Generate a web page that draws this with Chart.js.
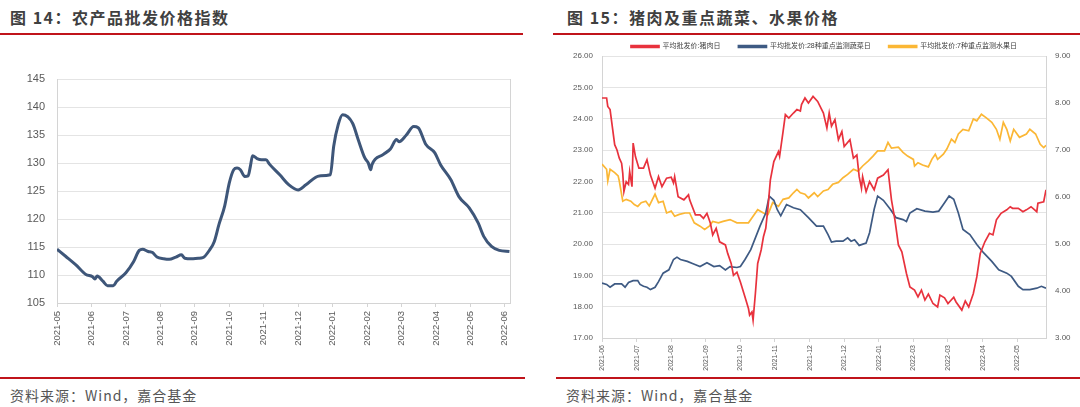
<!DOCTYPE html>
<html>
<head>
<meta charset="utf-8">
<script src="https://cdn.jsdelivr.net/npm/chart.js@4.4.1/dist/chart.umd.min.js"></script>
<style>
  body { margin: 0; background: #fff; }
  #page { position: relative; width: 1080px; height: 407px; overflow: hidden; background: #fff; }
  .title { position: absolute; top: 7px; line-height: 20px; font-family: "Noto Sans CJK SC", sans-serif; font-weight: bold; font-size: 16px; letter-spacing: 1.5px; color: #404040; white-space: nowrap; }
  .rule { position: absolute; height: 2px; background: #c0141b; }
  .src { position: absolute; top: 386px; line-height: 18px; font-family: "Noto Sans CJK SC", sans-serif; font-size: 14px; letter-spacing: 1px; color: #555; white-space: nowrap; }
  canvas { position: absolute; }
</style>
</head>
<body>
<div id="page">
  <div class="title" style="left:10px">图 14：农产品批发价格指数</div>
  <div class="title" style="left:567px">图 15：猪肉及重点蔬菜、水果价格</div>
  <div class="rule" style="left:0;top:33px;width:523px"></div>
  <div class="rule" style="left:553px;top:33px;width:527px"></div>
  <div class="rule" style="left:0;top:377px;width:525px"></div>
  <div class="rule" style="left:556px;top:377px;width:524px"></div>
  <canvas id="c14" width="540" height="300" style="left:0;top:60px"></canvas>
  <canvas id="c15" width="540" height="355" style="left:540px;top:25px"></canvas>
  <div class="src" style="left:10px">资料来源：Wind，嘉合基金</div>
  <div class="src" style="left:566px">资料来源：Wind，嘉合基金</div>
</div>
<script>
// 图14 农产品批发价格指数
const leftMonths = ['2021-05', '2021-06', '2021-07', '2021-08', '2021-09', '2021-10', '2021-11',
  '2021-12', '2022-01', '2022-02', '2022-03', '2022-04', '2022-05', '2022-06'];
const leftDates = ['2021-05-01', '2021-05-09', '2021-05-18', '2021-05-27', '2021-06-02', '2021-06-04',
  '2021-06-06', '2021-06-11', '2021-06-15', '2021-06-20', '2021-06-23', '2021-07-01', '2021-07-08',
  '2021-07-13', '2021-07-16', '2021-07-21', '2021-07-25', '2021-07-29', '2021-08-04', '2021-08-09',
  '2021-08-15', '2021-08-20', '2021-08-23', '2021-08-29', '2021-09-04', '2021-09-08', '2021-09-14',
  '2021-09-18', '2021-09-22', '2021-09-27', '2021-10-01', '2021-10-05', '2021-10-08', '2021-10-11',
  '2021-10-15', '2021-10-18', '2021-10-20', '2021-10-22', '2021-10-26', '2021-10-30', '2021-11-03',
  '2021-11-06', '2021-11-15', '2021-11-23', '2021-12-01', '2021-12-08', '2021-12-20', '2021-12-30',
  '2022-01-02', '2022-01-06', '2022-01-10', '2022-01-19', '2022-01-24', '2022-01-30', '2022-02-02',
  '2022-02-04', '2022-02-05', '2022-02-14', '2022-02-20', '2022-02-25', '2022-02-27', '2022-03-05',
  '2022-03-12', '2022-03-16', '2022-03-23', '2022-03-31', '2022-04-05', '2022-04-14', '2022-04-21',
  '2022-04-30', '2022-05-08', '2022-05-13', '2022-05-20', '2022-05-27', '2022-06-05'];
const leftIndex = [114.6, 113.3, 111.8, 110.1, 109.7, 109.3,
  109.8, 108.9, 108.1, 108.1, 108.9, 110.4, 112.4,
  114.4, 114.6, 114.2, 114.0, 113.2, 112.9, 112.8,
  113.2, 113.6, 113.0, 112.9, 113.0, 113.1, 114.5,
  116.0, 119.0, 122.3, 126.4, 128.8, 129.1, 128.8,
  127.6, 127.7, 129.4, 131.3, 130.8, 130.6, 130.6,
  129.8, 127.9, 126.1, 125.2, 126.1, 127.7, 127.9,
  133.0, 136.8, 138.6, 137.1, 134.2, 130.9, 130.0,
  128.8, 129.7, 131.5, 132.5, 134.2, 133.8, 134.9,
  136.5, 136.3, 133.3, 131.8, 129.7, 127.0, 124.0,
  122.0, 119.3, 116.9, 115.1, 114.4, 114.2];

// 图15 猪肉及重点蔬菜、水果价格 (x = 距首个刻度的天数)
const seriesNames = ['平均批发价:猪肉日', '平均批发价:28种重点监测蔬菜日', '平均批发价:7种重点监测水果日'];
const rightTickLabels = ['2021-06', '2021-07', '2021-08', '2021-09', '2021-10', '2021-11', '2021-12',
  '2021-12', '2022-01', '2022-03', '2022-03', '2022-04', '2022-05'];

const porkDay = [0, 4, 5, 7, 11, 13, 15, 17, 18, 19, 21, 23, 24, 26, 27, 29, 32, 36, 39, 42, 46, 49, 52, 56,
  60, 62, 63, 66, 71, 75, 76, 81, 85, 88, 91, 94, 96, 99, 102, 107, 109, 112, 114, 117, 120, 124, 127,
  128, 130, 131, 133, 135, 138, 140, 142, 144, 146, 149, 153, 154, 157, 159, 162, 166, 169, 172, 173,
  176, 179, 183, 187, 192, 195, 197, 199, 202, 205, 208, 210, 215, 218, 221, 223, 225, 226, 229, 232,
  236, 239, 244, 248, 251, 254, 257, 260, 264, 267, 271, 274, 277, 280, 283, 287, 291, 293, 297, 300,
  305, 307, 312, 315, 318, 322, 325, 328, 332, 336, 339, 342, 346, 351, 354, 356, 361, 365, 368, 372,
  377, 378, 383, 385];
const porkPrice = [24.66, 24.66, 24.39, 24.29, 23.17, 23.0, 22.74, 22.58, 22.26, 21.67, 21.99, 21.9, 22.31,
  21.83, 23.22, 22.79, 22.42, 22.42, 22.69, 22.2, 21.78, 22.15, 21.83, 22.1,
  22.13, 21.95, 22.15, 21.51, 21.41, 21.57, 21.41, 20.93, 20.93, 20.82, 20.98, 20.66, 20.29, 20.5, 20.07,
  19.97, 19.7, 19.38, 19.0, 19.1, 18.79, 18.31, 17.94,
  17.73, 17.83, 17.57, 18.42, 19.38, 19.81, 20.23, 20.5, 21.19, 22.05, 22.63, 22.95, 22.8, 23.59, 24.13,
  24.02, 24.18, 24.29, 24.24, 24.45,
  24.66, 24.5, 24.71, 24.55, 24.18, 23.7, 24.18, 23.76, 23.97, 23.33, 23.59, 23.11, 23.33, 22.74, 22.84,
  22.15, 21.78, 22.15, 21.67, 21.99,
  21.73, 22.1, 22.2, 22.37, 21.41, 20.77, 19.97, 19.75, 19.06, 18.63, 18.53, 18.31, 18.53, 18.21, 18.4,
  18.1, 17.99, 18.37, 18.28, 18.1,
  18.3, 18.15, 17.89, 18.18, 17.99, 18.42, 18.95, 19.7, 20.07, 20.34, 20.29, 20.77, 20.98, 21.09, 21.19,
  21.14, 21.14, 21.03, 21.09, 21.19,
  21.03, 21.3, 21.35, 21.73];

const vegDay = [0, 4, 7, 11, 17, 20, 23, 27, 31, 33, 36, 39, 42, 46, 49, 53, 58, 62, 65, 68, 74, 79, 85,
  91, 97, 102, 107, 111, 117, 120, 124, 129, 133, 137, 142, 145, 149, 152, 155, 160, 166, 172, 179,
  186, 192, 196, 199, 203, 209, 213, 216, 219, 223, 229, 232, 236, 239, 244, 250, 255, 261, 264, 267,
  273, 280, 287, 292, 296, 301, 305, 309, 313, 319, 325, 331, 338, 344, 351, 355, 361, 365, 371, 377,
  381, 385];
const vegPrice = [4.17, 4.14, 4.08, 4.15, 4.15, 4.08, 4.18, 4.22, 4.22, 4.14, 4.1, 4.08, 4.03, 4.08, 4.2,
  4.38, 4.45, 4.67, 4.72, 4.67, 4.63, 4.58, 4.52,
  4.6, 4.52, 4.54, 4.45, 4.52, 4.5, 4.52, 4.67, 4.88, 5.13, 5.38, 5.66, 6.02, 5.93, 5.73, 5.6, 5.84,
  5.77, 5.73, 5.56,
  5.38, 5.38, 5.2, 5.04, 5.06, 5.06, 5.13, 5.06, 5.09, 4.97, 5.02, 5.24, 5.74, 6.02, 5.93, 5.74, 5.56,
  5.52, 5.48, 5.66,
  5.75, 5.7, 5.68, 5.7, 5.84, 6.02, 5.95, 5.66, 5.31, 5.2, 4.99, 4.81, 4.63, 4.45, 4.38, 4.31, 4.1,
  4.03, 4.03, 4.06,
  4.1, 4.06];

const fruitDay = [0, 4, 5, 7, 11, 14, 15, 18, 21, 25, 28, 31, 34, 38, 41, 46, 49, 53, 56, 60, 63, 67, 72,
  76, 80, 85, 89, 93, 96, 101, 105, 111, 117, 122, 127, 131, 135, 140, 144, 148, 153, 157, 162, 166,
  169, 172, 176, 179, 184, 187, 192, 196, 200, 205, 209, 213, 218, 222, 226, 231, 235, 239, 245, 248,
  251, 257, 261, 265, 270, 271, 274, 278, 283, 286, 289, 291, 296, 299, 303, 306, 309, 313, 318, 322,
  325, 329, 333, 338, 342, 345, 348, 351, 354, 357, 362, 368, 371, 376, 380, 383, 385];
const fruitPrice = [6.7, 6.59, 6.34, 6.59, 6.52, 6.45, 6.34, 5.91, 5.95, 5.91, 5.84, 5.8, 5.88, 5.91, 5.81,
  6.06, 5.88, 5.91, 5.66, 5.7, 5.59, 5.63, 5.66,
  5.66, 5.45, 5.38, 5.31, 5.38, 5.48, 5.45, 5.48, 5.52, 5.45, 5.45, 5.45, 5.59, 5.73, 5.66, 5.63, 5.88,
  5.8, 5.95, 5.98, 6.09,
  6.16, 6.09, 6.06, 5.98, 6.09, 6.01, 6.13, 6.16, 6.27, 6.31, 6.41, 6.48, 6.59, 6.55, 6.66, 6.77, 6.87,
  6.98, 6.98, 7.16,
  7.04, 7.06, 6.95, 6.87, 6.8, 6.66, 6.73, 6.68, 6.64, 6.8, 6.91, 6.8, 6.91, 7.02, 7.23, 7.16, 7.34,
  7.44, 7.41, 7.66,
  7.62, 7.76, 7.69, 7.59, 7.44, 7.23, 7.59, 7.44, 7.19, 7.44, 7.27, 7.34, 7.44, 7.34, 7.12, 7.05, 7.1];

const tickColor = '#595959';
const gridColor = '#e4e4e4';
const axisColor = '#d4d4d4';
Chart.defaults.font.family = "'Liberation Sans', Arial, 'Noto Sans CJK SC', sans-serif";

function monthPos(s) {
  const [y, m, d] = s.split('-').map(Number);
  const dim = new Date(y, m, 0).getDate();
  return (y - 2021) * 12 + (m - 5) + (d - 1) / dim;
}

function pairs(xs, ys) {
  return xs.map((x, i) => ({ x, y: ys[i] }));
}

function fixed2(v) {
  return v.toFixed(2);
}

new Chart(document.getElementById('c14'), {
  type: 'line',
  data: {
    datasets: [{
      data: pairs(leftDates.map(monthPos), leftIndex),
      borderColor: '#3e5679',
      borderWidth: 3,
      pointRadius: 0,
      cubicInterpolationMode: 'monotone'
    }]
  },
  options: {
    responsive: false,
    animation: false,
    devicePixelRatio: 1,
    layout: { padding: { top: 19, right: 30, left: 0, bottom: 0 } },
    plugins: { legend: { display: false }, tooltip: { enabled: false } },
    scales: {
      x: {
        type: 'linear',
        min: 0,
        max: 13.15,
        afterFit: s => { s.height = 57; },
        ticks: {
          stepSize: 1,
          includeBounds: false,
          autoSkip: false,
          minRotation: 90,
          maxRotation: 90,
          padding: 4,
          color: tickColor,
          font: { size: 9.5 },
          callback: v => leftMonths[v] ?? ''
        },
        grid: { drawOnChartArea: false, tickLength: 4, color: axisColor },
        border: { color: axisColor }
      },
      y: {
        min: 105,
        max: 145,
        afterFit: s => { s.width = 57; },
        ticks: { stepSize: 5, padding: 12, color: tickColor, font: { size: 11 } },
        grid: { color: gridColor, drawTicks: false },
        border: { color: axisColor }
      },
      yr: {
        position: 'right',
        min: 105,
        max: 145,
        afterFit: s => { s.width = 0; },
        ticks: { display: false },
        grid: { display: false },
        border: { display: true, color: axisColor }
      }
    }
  }
});

new Chart(document.getElementById('c15'), {
  type: 'line',
  data: {
    datasets: [
      { label: seriesNames[0], data: pairs(porkDay, porkPrice), yAxisID: 'y', borderColor: '#e8323d', backgroundColor: '#e8323d' },
      { label: seriesNames[1], data: pairs(vegDay, vegPrice), yAxisID: 'y2', borderColor: '#3e5a83', backgroundColor: '#3e5a83' },
      { label: seriesNames[2], data: pairs(fruitDay, fruitPrice), yAxisID: 'y2', borderColor: '#fbb735', backgroundColor: '#fbb735' }
    ]
  },
  options: {
    responsive: false,
    animation: false,
    devicePixelRatio: 1,
    elements: { line: { borderWidth: 1.7, tension: 0 }, point: { radius: 0 } },
    layout: { padding: { top: 0, right: 0, left: 0, bottom: 0 } },
    plugins: {
      tooltip: { enabled: false },
      legend: {
        position: 'top',
        fullSize: false,
        maxHeight: 31,
        labels: { boxWidth: 28, boxHeight: 2, padding: 18, color: '#404040', font: { size: 7 } }
      }
    },
    scales: {
      x: {
        type: 'linear',
        min: 0,
        max: 385,
        afterFit: s => { s.height = 42; },
        ticks: {
          stepSize: 30,
          includeBounds: false,
          autoSkip: false,
          minRotation: 90,
          maxRotation: 90,
          padding: 3,
          color: tickColor,
          font: { size: 7 },
          callback: v => rightTickLabels[v / 30] ?? ''
        },
        grid: { drawOnChartArea: false, tickLength: 4, color: axisColor },
        border: { color: axisColor }
      },
      y: {
        position: 'left',
        min: 17,
        max: 26,
        afterFit: s => { s.width = 62; },
        ticks: { stepSize: 1, padding: 9, color: tickColor, font: { size: 8 }, callback: fixed2 },
        grid: { color: gridColor, drawTicks: false },
        border: { color: axisColor }
      },
      y2: {
        position: 'right',
        min: 3,
        max: 9,
        afterFit: s => { s.width = 34; },
        ticks: { stepSize: 1, padding: 9, color: tickColor, font: { size: 8 }, callback: fixed2 },
        grid: { drawOnChartArea: false, drawTicks: false },
        border: { color: axisColor }
      }
    }
  }
});
</script>
</body>
</html>
